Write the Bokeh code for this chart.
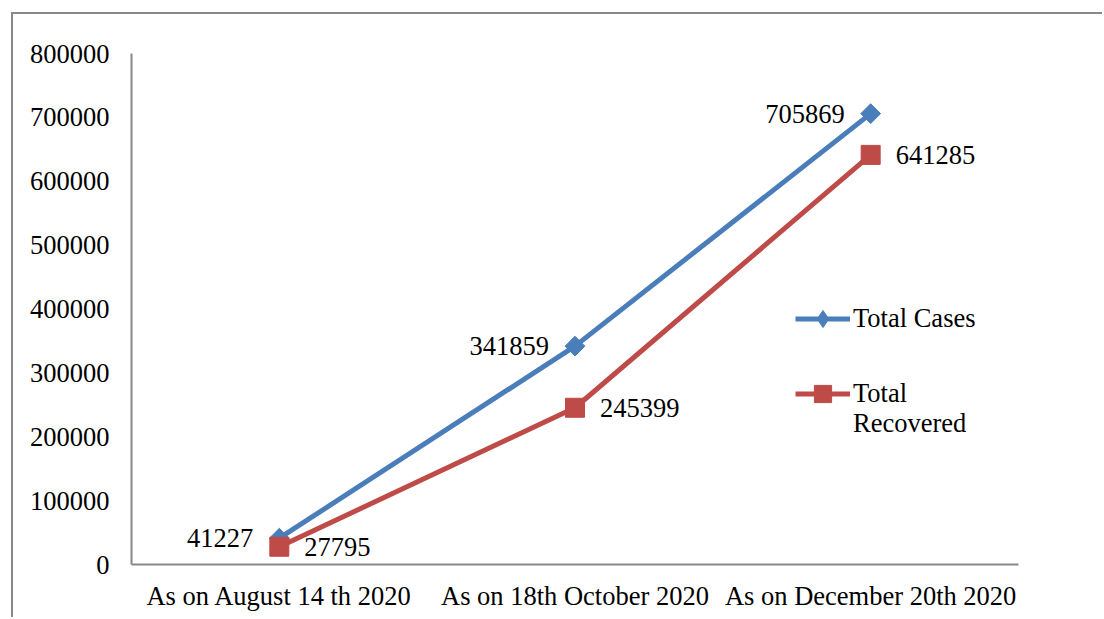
import numpy as np
from bokeh.plotting import figure
from bokeh.models import (FactorRange, Range1d, FixedTicker, NumeralTickFormatter,
                          LabelSet, ColumnDataSource, Legend, LegendItem)
from bokeh.core.properties import value
from bokeh.embed import file_html
from bokeh.resources import INLINE

categories = ["As on August 14 th 2020", "As on 18th October 2020", "As on December 20th 2020"]
total_cases = [41227, 341859, 705869]
total_recovered = [27795, 245399, 641285]
y_ticks = [0, 100000, 200000, 300000, 400000, 500000, 600000, 700000, 800000]
series_names = ["Total Cases", "Total", "Recovered"]

BLUE = "#4A7EBB"
RED = "#BE4B48"
FONT = "Liberation Serif"
FS = "26.5px"

src = ColumnDataSource(dict(
    cat=categories,
    cases=total_cases,
    rec=total_recovered,
    cases_txt=[str(v) for v in total_cases],
    rec_txt=[str(v) for v in total_recovered],
))

p = figure(x_range=FactorRange(*categories), y_range=Range1d(0, 800000),
           width=1091, height=605, output_backend="svg", toolbar_location=None,
           min_border_left=118, min_border_right=86, min_border_top=39, min_border_bottom=55,
           margin=(12, 0, 0, 11))
p.styles = {"border-top": "2px solid #888888", "border-left": "2px solid #888888"}
p.outline_line_color = None
p.xgrid.grid_line_color = None
p.ygrid.grid_line_color = None
p.background_fill_color = "white"
p.border_fill_color = "white"

for ax in (p.xaxis[0], p.yaxis[0]):
    ax.axis_line_color = "#888888"
    ax.axis_line_width = 2
    ax.major_tick_line_color = None
    ax.minor_tick_line_color = None
    ax.major_label_text_font = FONT
    ax.major_label_text_font_size = FS
    ax.major_label_text_color = "black"

p.yaxis.ticker = FixedTicker(ticks=y_ticks)
p.yaxis.formatter = NumeralTickFormatter(format="0")
p.yaxis.major_label_standoff = 16
p.xaxis.major_label_standoff = 10

l1 = p.line(x="cat", y="cases", source=src, line_width=5, line_color=BLUE)
# diamond used by the legend (hidden under the rotated squares in the plot)
d_leg = p.scatter(x="cat", y="cases", source=src, marker="diamond", size=17,
                  fill_color=BLUE, line_color=BLUE)
s1 = p.scatter(x="cat", y="cases", source=src, marker="square", angle=np.pi / 4,
               size=14, fill_color=BLUE, line_color=BLUE)
l2 = p.line(x="cat", y="rec", source=src, line_width=5, line_color=RED)
s2 = p.scatter(x="cat", y="rec", source=src, marker="square", size=19,
               fill_color=RED, line_color=RED)

lab1 = LabelSet(x="cat", y="cases", text="cases_txt", source=src, x_offset=-26,
                text_align="right", text_baseline="middle",
                text_font=value(FONT), text_font_size=value(FS), text_color="black")
lab2 = LabelSet(x="cat", y="rec", text="rec_txt", source=src, x_offset=25,
                text_align="left", text_baseline="middle",
                text_font=value(FONT), text_font_size=value(FS), text_color="black")
p.add_layout(lab1)
p.add_layout(lab2)

common = dict(glyph_width=55, glyph_height=43, label_standoff=3, padding=0, margin=0,
              border_line_color=None, background_fill_alpha=0,
              label_text_font=FONT, label_text_font_size=FS, label_text_color="black")
legend1 = Legend(items=[LegendItem(label=series_names[0], renderers=[l1, d_leg])],
                 location=(664, 224), **common)
legend2 = Legend(items=[LegendItem(label=series_names[1], renderers=[l2, s2])],
                 location=(664, 149), **common)
legend3 = Legend(items=[LegendItem(label=series_names[2], renderers=[])],
                 location=(664, 119), **common)
p.add_layout(legend1)
p.add_layout(legend2)
p.add_layout(legend3)

open("out.html", "w").write(file_html(p, INLINE))
